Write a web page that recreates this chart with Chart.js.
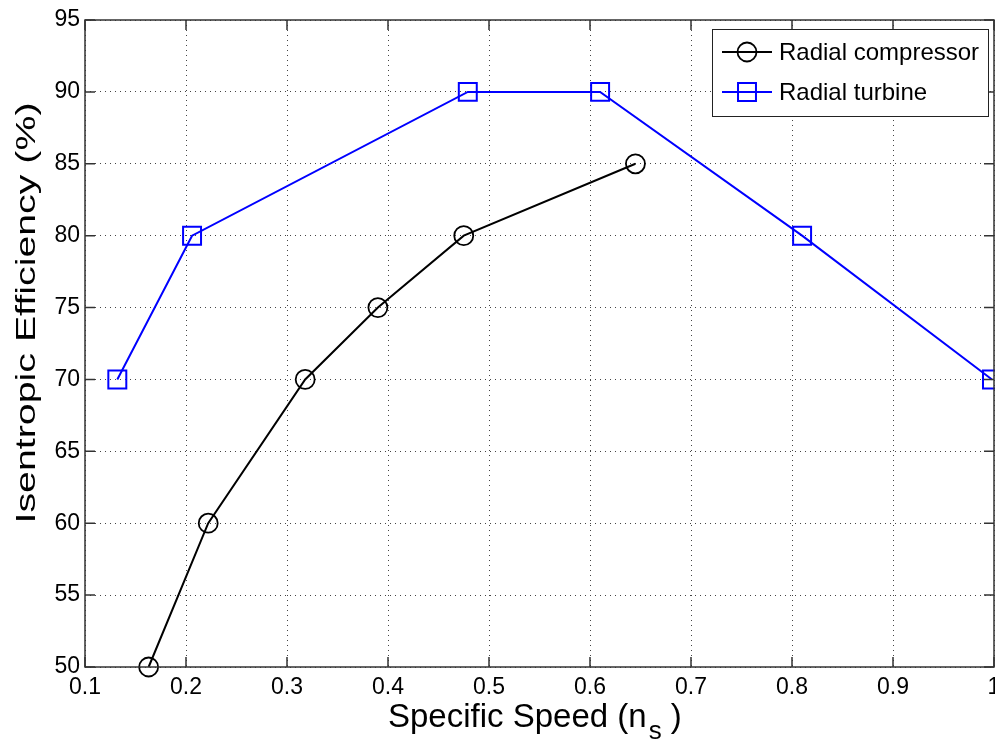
<!DOCTYPE html>
<html>
<head>
<meta charset="utf-8">
<script src="https://cdn.jsdelivr.net/npm/chart.js@4/dist/chart.umd.min.js"></script>
<style>
  html, body { margin: 0; padding: 0; background: #fff; }
  #wrap { width: 995px; height: 742px; }
</style>
</head>
<body>
<div id="wrap"><canvas id="effChart"></canvas></div>
<script>
// values
const compressorSpeed = [0.163, 0.222, 0.318, 0.390, 0.475, 0.645];
const compressorEff = [50, 60, 70, 75, 80, 85];
const turbineSpeed = [0.132, 0.206, 0.479, 0.610, 0.810, 0.998];
const turbineEff = [70, 80, 90, 90, 80, 70];
const xTicks = [0.1, 0.2, 0.3, 0.4, 0.5, 0.6, 0.7, 0.8, 0.9, 1];
const yTicks = [50, 55, 60, 65, 70, 75, 80, 85, 90, 95];
const seriesNames = ['Radial compressor', 'Radial turbine'];

const FONT = "'Liberation Sans', Arial, Helvetica, sans-serif";
Chart.defaults.font.family = FONT;
Chart.defaults.color = '#000';

// axis box, inward ticks, legend and axis titles, matlab style
const matlabFrame = {
    id: 'matlabFrame',
    afterDraw(chart) {
        const ctx = chart.ctx;
        const { left, right, top, bottom } = chart.chartArea;
        const xs = chart.scales.x, ys = chart.scales.y;
        ctx.save();
        ctx.strokeStyle = '#333';
        ctx.lineWidth = 1.5;
        ctx.strokeRect(left, top, right - left, bottom - top);
        ctx.beginPath();
        xTicks.forEach(v => {
            const px = xs.getPixelForValue(v);
            ctx.moveTo(px, bottom); ctx.lineTo(px, bottom - 10);
            ctx.moveTo(px, top); ctx.lineTo(px, top + 10);
        });
        yTicks.forEach(v => {
            const py = ys.getPixelForValue(v);
            ctx.moveTo(left, py); ctx.lineTo(left + 10, py);
            ctx.moveTo(right, py); ctx.lineTo(right - 10, py);
        });
        ctx.stroke();

        // legend
        ctx.fillStyle = '#fff';
        ctx.fillRect(712, 29, 276, 87);
        ctx.lineWidth = 1;
        ctx.strokeStyle = '#222';
        ctx.strokeRect(712.5, 29.5, 276, 87);
        chart.data.datasets.forEach((ds, i) => {
            const cy = 52 + i * 40;
            ctx.strokeStyle = ds.borderColor;
            ctx.lineWidth = 2;
            ctx.beginPath();
            ctx.moveTo(722, cy); ctx.lineTo(772, cy);
            ctx.stroke();
            ctx.fillStyle = 'rgba(0,0,0,0)';
            ctx.lineWidth = ds.pointBorderWidth;
            Chart.helpers.drawPoint(ctx, {
                pointStyle: ds.pointStyle, radius: ds.pointRadius,
                borderWidth: ds.pointBorderWidth
            }, 747, cy);
            ctx.fillStyle = '#000';
            ctx.font = '24px ' + FONT;
            ctx.textBaseline = 'middle';
            ctx.textAlign = 'left';
            ctx.fillText(ds.label, 779, cy + 1);
        });

        // x title with subscript
        ctx.fillStyle = '#000';
        ctx.textBaseline = 'alphabetic';
        ctx.font = '33px ' + FONT;
        const main = 'Specific Speed (n';
        let x = 388;
        ctx.fillText(main, x, 727);
        x += ctx.measureText(main).width + 2;
        ctx.font = '26px ' + FONT;
        ctx.fillText('s', x, 739);
        x += ctx.measureText('s').width;
        ctx.font = '33px ' + FONT;
        ctx.fillText(' )', x, 727);

        // y title
        ctx.font = '28px ' + FONT;
        const yt = 'Isentropic Efficiency (%)';
        const stretch = 421 / ctx.measureText(yt).width;
        ctx.translate(27, 313);
        ctx.rotate(-Math.PI / 2);
        ctx.scale(stretch, 1);
        ctx.textAlign = 'center';
        ctx.textBaseline = 'middle';
        ctx.fillText(yt, 0, 0);
        ctx.restore();
    }
};

new Chart(document.getElementById('effChart'), {
    type: 'line',
    data: {
        datasets: [{
            label: seriesNames[0],
            data: compressorSpeed.map((s, i) => ({ x: s, y: compressorEff[i] })),
            borderColor: '#000',
            borderWidth: 2,
            pointStyle: 'circle',
            pointRadius: 9.5,
            pointBorderWidth: 1.8,
            pointBackgroundColor: 'rgba(0,0,0,0)',
            pointBorderColor: '#000',
            tension: 0
        }, {
            label: seriesNames[1],
            data: turbineSpeed.map((s, i) => ({ x: s, y: turbineEff[i] })),
            borderColor: '#0000ff',
            borderWidth: 2,
            pointStyle: 'rect',
            pointRadius: 12.7,
            pointBorderWidth: 2,
            pointBackgroundColor: 'rgba(0,0,0,0)',
            pointBorderColor: '#0000ff',
            tension: 0
        }]
    },
    options: {
        responsive: true,
        maintainAspectRatio: false,
        animation: false,
        clip: false,
        layout: { autoPadding: false, padding: { top: 20, right: 1, left: 0, bottom: 0 } },
        plugins: { legend: { display: false }, tooltip: { enabled: false } },
        scales: {
            x: {
                type: 'linear',
                min: 0.1,
                max: 1,
                afterBuildTicks: s => { s.ticks = xTicks.map(v => ({ value: v })); },
                afterFit: s => { s.height = 75; s.paddingLeft = 0; s.paddingRight = 0; },
                ticks: {
                    font: { size: 23 },
                    padding: 7,
                    maxRotation: 0,
                    autoSkip: false,
                    callback: v => (v === 1 ? '1' : v.toFixed(1))
                },
                grid: { color: '#444', lineWidth: 1, drawTicks: false },
                border: { display: false, dash: [1, 4] }
            },
            y: {
                type: 'linear',
                min: 50,
                max: 95,
                afterBuildTicks: s => { s.ticks = yTicks.map(v => ({ value: v })); },
                afterFit: s => { s.width = 85; s.paddingTop = 0; s.paddingBottom = 0; },
                ticks: { font: { size: 23 }, padding: 5, autoSkip: false },
                grid: { color: '#444', lineWidth: 1, drawTicks: false },
                border: { display: false, dash: [1, 4] }
            }
        }
    },
    plugins: [matlabFrame]
});
</script>
</body>
</html>
